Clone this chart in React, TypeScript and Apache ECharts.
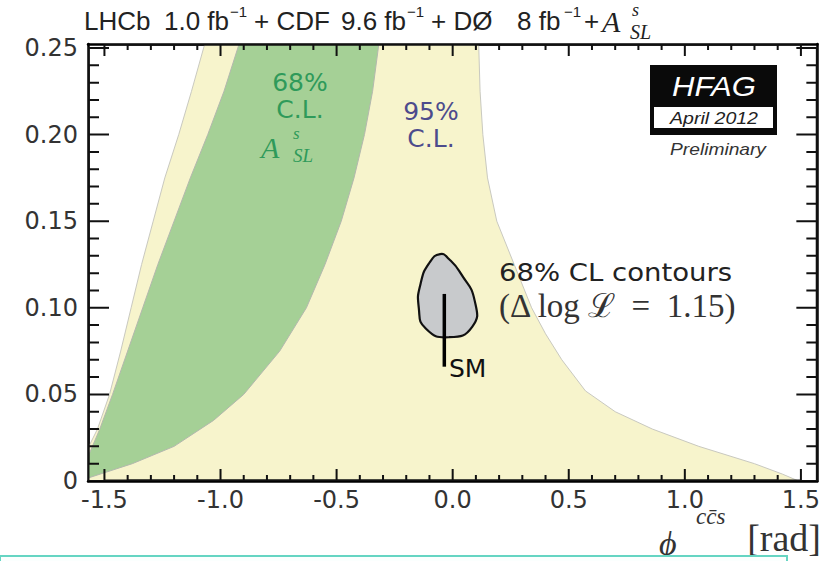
import React, { useEffect, useRef } from "react";
import * as echarts from "echarts";

// ---- axis ranges & ticks ----
const X_MIN = -1.5708;
const X_MAX = 1.5708;
const Y_MIN = 0;
const Y_MAX = 0.2523;
const xMajorTicks = [-1.5, -1.0, -0.5, 0.0, 0.5, 1.0, 1.5];
const xMinorTicks = [
  -1.4, -1.3, -1.2, -1.1, -0.9, -0.8, -0.7, -0.6, -0.4, -0.3, -0.2, -0.1,
  0.1, 0.2, 0.3, 0.4, 0.6, 0.7, 0.8, 0.9, 1.1, 1.2, 1.3, 1.4,
];
const yMajorTicks = [0, 0.05, 0.1, 0.15, 0.2, 0.25];
const yMinorTicks = [
  0.01, 0.02, 0.03, 0.04, 0.06, 0.07, 0.08, 0.09, 0.11, 0.12, 0.13, 0.14,
  0.16, 0.17, 0.18, 0.19, 0.21, 0.22, 0.23, 0.24,
];

// ---- region boundaries (phi_s [rad], DeltaGamma_s [ps^-1]) ----
const yellowLeftEdge: number[][] = [
  [-1.5708, 0.019], [-1.53, 0.03], [-1.478, 0.05], [-1.43, 0.075], [-1.385, 0.1],
  [-1.34, 0.125], [-1.29, 0.15], [-1.24, 0.175], [-1.18, 0.2], [-1.125, 0.225], [-1.068, 0.2523],
];
const yellowRightEdge: number[][] = [
  [0.112, 0.2523], [0.118, 0.225], [0.13, 0.2], [0.15, 0.175], [0.19, 0.15], [0.265, 0.125],
  [0.34, 0.1], [0.4, 0.085], [0.47, 0.07], [0.572, 0.052], [0.7, 0.04], [0.86, 0.03],
  [1.06, 0.02], [1.3, 0.01], [1.42, 0.004], [1.49, 0],
];
const greenLeftEdge: number[][] = [
  [-1.5708, 0.014], [-1.52, 0.03], [-1.465, 0.05], [-1.4, 0.075], [-1.335, 0.1],
  [-1.27, 0.125], [-1.2, 0.15], [-1.13, 0.175], [-1.055, 0.2], [-0.985, 0.225], [-0.92, 0.2523],
];
const greenRightEdge: number[][] = [
  [-0.318, 0.2523], [-0.345, 0.225], [-0.38, 0.2], [-0.425, 0.175], [-0.48, 0.15],
  [-0.55, 0.125], [-0.63, 0.1], [-0.745, 0.075], [-0.9, 0.05], [-1.03, 0.035],
  [-1.2, 0.02], [-1.38, 0.01], [-1.5708, 0.0017],
];
const yellow95: number[][] = [[X_MIN, Y_MIN], ...yellowLeftEdge, ...yellowRightEdge];
const green68: number[][] = [...greenLeftEdge, ...greenRightEdge];

const contour68: number[][] = [
  [-0.054, 0.131], [-0.015, 0.128], [0.034, 0.12], [0.095, 0.104], [0.084, 0.089],
  [-0.017, 0.083], [-0.116, 0.088], [-0.146, 0.1], [-0.138, 0.114], [-0.1, 0.126],
];
const smPrediction: number[][] = [
  [-0.036, 0.066], [-0.036, 0.108],
];

const SANS = "'DejaVu Sans', Verdana, sans-serif";
const ARIAL = "'Liberation Sans', Arial, Helvetica, sans-serif";
const SERIF = "'Liberation Serif', 'DejaVu Serif', 'Times New Roman', serif";

function xAxisCfg(pos: string, labels: boolean) {
  return {
    type: "value",
    position: pos,
    min: X_MIN,
    max: X_MAX,
    axisLine: { show: true, onZero: false, lineStyle: { color: "#000", width: 2.5 } },
    axisTick: { show: false },
    axisLabel: {
      show: labels,
      customValues: xMajorTicks,
      formatter: (v: number) => v.toFixed(1),
      color: "#333",
      fontSize: 24,
      fontFamily: SANS,
      margin: 7,
    },
    splitLine: { show: false },
  };
}

function yAxisCfg(pos: string, labels: boolean) {
  return {
    type: "value",
    position: pos,
    min: Y_MIN,
    max: Y_MAX,
    axisLine: { show: true, onZero: false, lineStyle: { color: "#000", width: 2.5 } },
    axisTick: { show: false },
    axisLabel: {
      show: labels,
      customValues: yMajorTicks,
      formatter: (v: number) => (v === 0 ? "0" : v.toFixed(2)),
      color: "#333",
      fontSize: 24,
      fontFamily: SANS,
      margin: 10,
    },
    splitLine: { show: false },
  };
}

function polySeries(pts: number[][], fill: string, stroke: string, lw: number, smooth: number, z: number) {
  return {
    type: "custom",
    coordinateSystem: "cartesian2d",
    xAxisIndex: 0,
    yAxisIndex: 0,
    data: pts,
    encode: { x: 0, y: 1 },
    clip: true,
    silent: true,
    z,
    renderItem: (params: any, api: any) => {
      if (params.dataIndex !== 0) return { type: "group", children: [] };
      const points = pts.map((p) => api.coord(p));
      return {
        type: "polygon",
        shape: { points, smooth },
        style: { fill, stroke, lineWidth: lw },
      };
    },
  };
}

function lineSeries(pts: number[][], stroke: string, lw: number, z: number) {
  return {
    type: "custom",
    coordinateSystem: "cartesian2d",
    xAxisIndex: 0,
    yAxisIndex: 0,
    data: pts,
    encode: { x: 0, y: 1 },
    clip: true,
    silent: true,
    z,
    renderItem: (params: any, api: any) => {
      if (params.dataIndex !== 0) return { type: "group", children: [] };
      const points = pts.map((p) => api.coord(p));
      return {
        type: "polyline",
        shape: { points },
        style: { fill: "none", stroke, lineWidth: lw },
      };
    },
  };
}

// inside tick marks: one comb-shaped polyline per side. Tick positions come from
// the tick arrays through api.coord; the series' own data points sit inside the plot.
function tickSeries(side: string, ticks: number[], len: number) {
  const horiz = side === "bottom" || side === "top";
  const anchor: number[][] = ticks.map((v) => (horiz ? [v, 0.1] : [0, v]));
  const dx = side === "left" ? len : side === "right" ? -len : 0;
  const dy = side === "bottom" ? -len : side === "top" ? len : 0;
  return {
    type: "custom",
    coordinateSystem: "cartesian2d",
    xAxisIndex: 0,
    yAxisIndex: 0,
    data: anchor,
    encode: { x: 0, y: 1 },
    clip: true,
    silent: true,
    z: 4,
    renderItem: (params: any, api: any) => {
      if (params.dataIndex !== 0) return { type: "group", children: [] };
      const edgeX = api.coord([side === "right" ? X_MAX : X_MIN, Y_MIN])[0];
      const edgeY = api.coord([X_MIN, side === "top" ? Y_MAX : Y_MIN])[1];
      const points: number[][] = [];
      ticks.forEach((v) => {
        const c = horiz ? [api.coord([v, 0.1])[0], edgeY] : [edgeX, api.coord([0, v])[1]];
        const inX = c[0] + (dx > 0 ? 0.5 : dx < 0 ? -0.5 : 0);
        const inY = c[1] + (dy > 0 ? 0.5 : dy < 0 ? -0.5 : 0);
        points.push([inX, inY]);
        points.push([c[0] + dx, c[1] + dy]);
        points.push([inX, inY]);
      });
      return {
        type: "polyline",
        shape: { points },
        style: { fill: "none", stroke: "#111", lineWidth: 2 },
      };
    },
  };
}

function txt(x: number, y: number, text: string, o: any = {}) {
  return {
    type: "text",
    x,
    y,
    z: o.z || 100,
    scaleX: o.sx || 1,
    silent: true,
    style: {
      text,
      fill: o.fill || "#222",
      fontSize: o.size || 24,
      fontFamily: o.family || SANS,
      fontStyle: o.style || "normal",
      fontWeight: o.weight || "normal",
      lineHeight: o.lh,
      align: o.align || "left",
      textAlign: o.align || "left",
      verticalAlign: "middle",
      textVerticalAlign: "middle",
    },
  };
}

const GREEN_TXT = "#2f9a5a";
const PURPLE_TXT = "#4d4b8c";

export default function App() {
  const ref = useRef<HTMLDivElement>(null);
  useEffect(() => {
    const chart = echarts.init(ref.current!, null, { renderer: "svg" });
    const option: any = {
      animation: false,
      backgroundColor: "#ffffff",
      grid: { left: 88, right: 4, top: 44, bottom: 80, containLabel: false },
      xAxis: [xAxisCfg("bottom", true), xAxisCfg("top", false)],
      yAxis: [yAxisCfg("left", true), yAxisCfg("right", false)],
      series: [
        polySeries(yellow95, "#f7f4cc", "#c9c9c0", 1, 0, 1),
        polySeries(green68, "#a5d096", "#b3b8ae", 1, 0, 2),
        polySeries(contour68, "#c8cacc", "#111", 2.2, 0.55, 3),
        lineSeries(smPrediction, "#000", 3.5, 4),
        tickSeries("bottom", xMajorTicks, 12),
        tickSeries("bottom", xMinorTicks, 6),
        tickSeries("top", xMajorTicks, 12),
        tickSeries("top", xMinorTicks, 6),
        tickSeries("left", yMajorTicks, 21),
        tickSeries("left", yMinorTicks, 11),
        tickSeries("right", yMajorTicks, 21),
        tickSeries("right", yMinorTicks, 11),
      ],
      graphic: [
        // title
        txt(84, 21, "LHCb", { size: 26, family: ARIAL }),
        txt(164, 21, "1.0 fb", { size: 26, family: ARIAL }),
        txt(230, 11, "−1", { size: 15, family: ARIAL }),
        txt(254, 21, "+ CDF", { size: 26, family: ARIAL }),
        txt(341, 21, "9.6 fb", { size: 26, family: ARIAL }),
        txt(407, 11, "−1", { size: 15, family: ARIAL }),
        txt(431, 21, "+ DØ", { size: 26, family: ARIAL }),
        txt(517, 21, "8 fb", { size: 26, family: ARIAL }),
        txt(564, 11, "−1", { size: 15, family: ARIAL }),
        txt(584, 21, "+", { size: 26, family: ARIAL }),
        txt(602, 21, "A", { size: 30, family: SERIF, style: "italic" }),
        txt(632, 10, "s", { size: 18, family: SERIF, style: "italic" }),
        txt(630, 32, "SL", { size: 20, family: SERIF, style: "italic" }),
        // green 68% label
        txt(300, 96, "68%\nC.L.", { size: 25, fill: GREEN_TXT, align: "center", lh: 27 }),
        txt(261, 147, "A", { size: 30, family: SERIF, style: "italic", fill: GREEN_TXT }),
        txt(293, 133, "s", { size: 17, family: SERIF, style: "italic", fill: GREEN_TXT }),
        txt(293, 155, "SL", { size: 19, family: SERIF, style: "italic", fill: GREEN_TXT }),
        // purple 95% label
        txt(431, 125, "95%\nC.L.", { size: 25, fill: PURPLE_TXT, align: "center", lh: 27 }),
        // contour legend
        txt(499, 272, "68% CL contours", { size: 25, fill: "#222", sx: 1.1 }),
        txt(499, 306, "(Δ log ℒ  =  1.15)", { size: 33, family: SERIF, fill: "#333" }),
        txt(449, 368, "SM", { size: 25, fill: "#111" }),
        // HFAG logo
        { type: "rect", z: 100, shape: { x: 650, y: 65, width: 127, height: 70 }, style: { fill: "#0a0a0a" } },
        { type: "rect", z: 101, shape: { x: 654, y: 107, width: 119, height: 21 }, style: { fill: "#fff" } },
        txt(714, 87, "HFAG", { size: 27, family: ARIAL, fill: "#fff", style: "italic", align: "center", z: 102, sx: 1.15 }),
        txt(714, 118, "April 2012", { size: 17, family: ARIAL, fill: "#222", style: "italic", align: "center", z: 102, sx: 1.15 }),
        txt(718, 150, "Preliminary", { size: 16, family: ARIAL, fill: "#333", style: "italic", align: "center", sx: 1.2 }),
        // x axis title
        txt(659, 543, "ϕ", { size: 34, family: SERIF, style: "italic", fill: "#333" }),
        txt(696, 516, "cc̄s", { size: 23, family: SERIF, style: "italic", fill: "#333" }),
        txt(821, 538, "[rad]", { size: 38, family: SERIF, fill: "#333", align: "right" }),
        // bottom overlay box
        { type: "rect", z: 120, shape: { x: 0, y: 556, width: 787, height: 20 }, style: { fill: "#fbfffe", stroke: "#66d5c3", lineWidth: 2 } },
      ],
    };
    chart.setOption(option);
    return () => chart.dispose();
  }, []);
  return (
    <div
      ref={ref}
      style={{ position: "fixed", left: 0, top: 0, width: 823, height: 561, background: "#fff" }}
    />
  );
}
